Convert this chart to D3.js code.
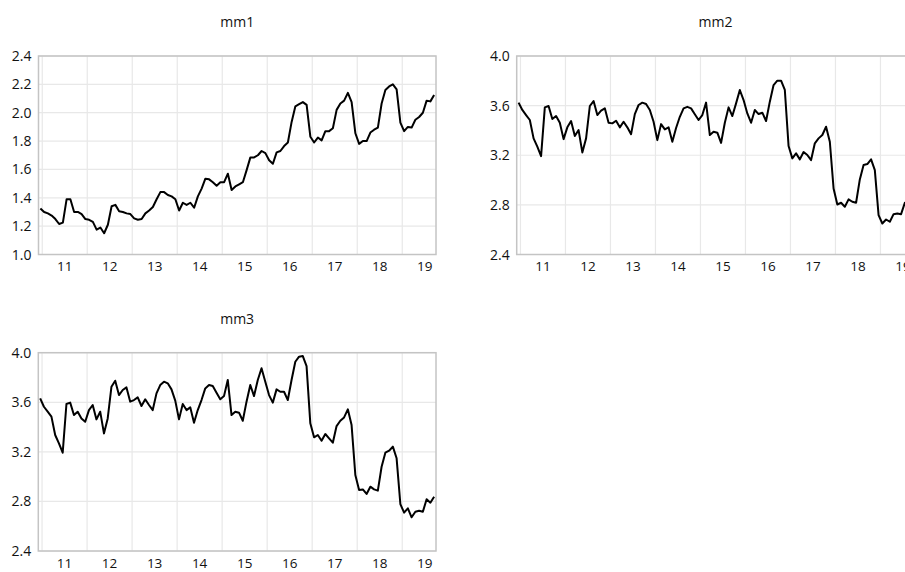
<!DOCTYPE html>
<html lang="en">
<head>
    <meta charset="UTF-8">
    <title>mm1 mm2 mm3</title>
    <script src="https://cdn.jsdelivr.net/npm/d3@7"></script>
<style>
body {
    margin: 0;
    background: #fff;
}
#chart {
    display: block;
    overflow: hidden;
}
</style>
</head>
<body>
<svg id="chart" width="905" height="572"></svg>
<script>

// monthly observations, 2010M12 .. 2019M09
const START_YEAR = 2010;
const START_MONTH = 12;
const N_OBS = 106;
const YEAR_LABELS = ["11", "12", "13", "14", "15", "16", "17", "18", "19"];

const mm1 = [
    1.325, 1.30, 1.29, 1.275, 1.25, 1.215, 1.225, 1.39, 1.39, 1.30,
    1.30, 1.285, 1.25, 1.245, 1.23, 1.175, 1.19, 1.15, 1.21, 1.34,
    1.35, 1.305, 1.30, 1.29, 1.285, 1.255, 1.245, 1.25, 1.29, 1.31,
    1.335, 1.39, 1.44, 1.44, 1.42, 1.41, 1.39, 1.31, 1.365, 1.35,
    1.365, 1.33, 1.41, 1.465, 1.535, 1.53, 1.51, 1.485, 1.51, 1.51,
    1.57, 1.455, 1.48, 1.495, 1.51, 1.595, 1.685, 1.685, 1.70, 1.73,
    1.715, 1.665, 1.64, 1.72, 1.73, 1.765, 1.79, 1.935, 2.045, 2.06,
    2.075, 2.055, 1.83, 1.79, 1.825, 1.805, 1.87, 1.87, 1.89, 2.02,
    2.065, 2.085, 2.14, 2.075, 1.855, 1.78, 1.80, 1.80, 1.86, 1.88,
    1.895, 2.065, 2.16, 2.185, 2.20, 2.165, 1.93, 1.87, 1.90, 1.895,
    1.95, 1.97, 2.00, 2.085, 2.08, 2.125
];

const mm2 = [
    3.624, 3.565, 3.524, 3.484, 3.336, 3.269, 3.193, 3.586, 3.597, 3.492,
    3.516, 3.462, 3.33, 3.425, 3.476, 3.355, 3.403, 3.223, 3.336, 3.597,
    3.637, 3.524, 3.559, 3.578, 3.462, 3.457, 3.478, 3.425, 3.47, 3.425,
    3.37, 3.532, 3.605, 3.624, 3.613, 3.565, 3.47, 3.322, 3.451, 3.408,
    3.425, 3.309, 3.42, 3.51, 3.578, 3.59, 3.578, 3.53, 3.484, 3.524,
    3.624, 3.363, 3.39, 3.382, 3.30, 3.462, 3.586, 3.516, 3.618, 3.726,
    3.645, 3.537, 3.462, 3.565, 3.532, 3.543, 3.476, 3.632, 3.766, 3.801,
    3.801, 3.726, 3.274, 3.175, 3.215, 3.167, 3.226, 3.202, 3.161, 3.296,
    3.336, 3.363, 3.43, 3.309, 2.932, 2.803, 2.817, 2.785, 2.844, 2.825,
    2.817, 3.005, 3.121, 3.129, 3.167, 3.08, 2.717, 2.65, 2.682, 2.664,
    2.725, 2.73, 2.725, 2.817, 2.79, 2.84
];

const mm3 = [
    3.632, 3.564, 3.524, 3.484, 3.336, 3.269, 3.193, 3.586, 3.597, 3.497,
    3.524, 3.47, 3.443, 3.537, 3.578, 3.462, 3.524, 3.349, 3.47, 3.726,
    3.774, 3.658, 3.699, 3.72, 3.605, 3.618, 3.64, 3.57, 3.624, 3.578,
    3.537, 3.672, 3.739, 3.766, 3.753, 3.704, 3.613, 3.462, 3.586, 3.537,
    3.559, 3.435, 3.537, 3.618, 3.712, 3.739, 3.731, 3.677, 3.624, 3.65,
    3.78, 3.497, 3.524, 3.516, 3.451, 3.605, 3.739, 3.65, 3.78, 3.874,
    3.766, 3.658, 3.597, 3.704, 3.685, 3.685, 3.618, 3.78, 3.927, 3.968,
    3.973, 3.892, 3.43, 3.317, 3.336, 3.29, 3.344, 3.309, 3.274, 3.408,
    3.451, 3.478, 3.543, 3.416, 3.013, 2.892, 2.897, 2.86, 2.919, 2.897,
    2.887, 3.08, 3.193, 3.209, 3.242, 3.148, 2.779, 2.709, 2.744, 2.672,
    2.717, 2.725, 2.717, 2.817, 2.79, 2.838
];

const mm1Ticks = [1.0, 1.2, 1.4, 1.6, 1.8, 2.0, 2.2, 2.4];
const mmTicks = [2.4, 2.8, 3.2, 3.6, 4.0];

// panel boxes (plot area) in page pixels
const PANELS = [
    {title: "mm1", values: mm1, ticks: mm1Ticks, left: 38.5, right: 436, top: 56, bottom: 254.5},
    {title: "mm2", values: mm2, ticks: mmTicks, left: 516.7, right: 914.2, top: 56, bottom: 254.5},
    {title: "mm3", values: mm3, ticks: mmTicks, left: 38.3, right: 436, top: 352.7, bottom: 551}
];

const FONT = "'Open Sans', 'Noto Sans', sans-serif";
const TEXT_COLOR = "#111";
const GRID_COLOR = "#e8e8e8";
const FRAME_COLOR = "#c4c4c4";

const svg = d3.select("#chart");

// index of January of each labelled year in the observation list
function januaryIndex(label) {
    const year = 2000 + (+label);
    return (year - START_YEAR) * 12 + (1 - START_MONTH);
}

function drawPanel(p) {
    const g = svg.append("g");
    const x = d3.scaleLinear().domain([0, N_OBS]).range([p.left, p.right]);
    const y = d3.scaleLinear()
        .domain(d3.extent(p.ticks))
        .range([p.bottom, p.top]);

    // horizontal grid
    g.selectAll(".hgrid")
        .data(p.ticks)
        .join("line")
        .attr("x1", p.left).attr("x2", p.right)
        .attr("y1", d => y(d)).attr("y2", d => y(d))
        .attr("stroke", GRID_COLOR)
        .attr("stroke-width", 1.2);

    // vertical grid at year starts
    g.selectAll(".vgrid")
        .data(YEAR_LABELS)
        .join("line")
        .attr("x1", d => x(januaryIndex(d))).attr("x2", d => x(januaryIndex(d)))
        .attr("y1", p.top).attr("y2", p.bottom)
        .attr("stroke", GRID_COLOR)
        .attr("stroke-width", 1.2);

    // frame
    g.append("rect")
        .attr("x", p.left).attr("y", p.top)
        .attr("width", p.right - p.left).attr("height", p.bottom - p.top)
        .attr("fill", "none")
        .attr("stroke", FRAME_COLOR)
        .attr("stroke-width", 1.5);

    // y tick labels
    g.selectAll(".ylab")
        .data(p.ticks)
        .join("text")
        .attr("x", p.left - 7)
        .attr("y", d => y(d))
        .attr("dy", "0.36em")
        .attr("text-anchor", "end")
        .style("font", `14px ${FONT}`)
        .attr("fill", TEXT_COLOR)
        .text(d => d.toFixed(1));

    // x tick labels, centred on each year
    g.selectAll(".xlab")
        .data(YEAR_LABELS)
        .join("text")
        .attr("x", d => x(januaryIndex(d) + 6))
        .attr("y", p.bottom + 12)
        .attr("dy", "0.36em")
        .attr("text-anchor", "middle")
        .style("font", `13.5px ${FONT}`)
        .attr("fill", TEXT_COLOR)
        .text(d => d);

    // title
    g.append("text")
        .attr("x", (p.left + p.right) / 2)
        .attr("y", p.top - 29)
        .attr("text-anchor", "middle")
        .style("font", `14px ${FONT}`)
        .attr("fill", TEXT_COLOR)
        .text(p.title);

    const line = d3.line()
        .x((d, i) => x(i + 0.5))
        .y(d => y(d));

    g.append("path")
        .datum(p.values)
        .attr("d", line)
        .attr("fill", "none")
        .attr("stroke", "#000")
        .attr("stroke-width", 2)
        .attr("stroke-linejoin", "round");
}

PANELS.forEach(drawPanel);
</script>
</body>
</html>
